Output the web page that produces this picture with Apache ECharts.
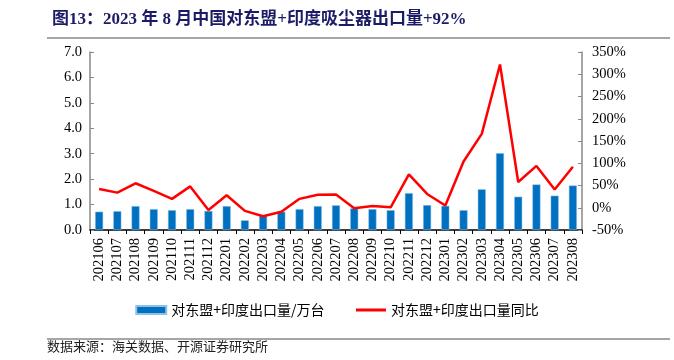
<!DOCTYPE html>
<html><head><meta charset="utf-8">
<script src="https://cdn.jsdelivr.net/npm/echarts@6/dist/echarts.min.js"></script>
<style>html,body{margin:0;padding:0;background:#fff}#c{width:674px;height:360px}</style>
</head><body><div id="c"></div>
<script>
const categories = ['202106','202107','202108','202109','202110','202111','202112','202201','202202','202203','202204','202205','202206','202207','202208','202209','202210','202211','202212','202301','202302','202303','202304','202305','202306','202307','202308'];
const volume = [0.72,0.74,0.94,0.82,0.78,0.82,0.75,0.94,0.38,0.55,0.72,0.82,0.94,0.97,0.85,0.82,0.78,1.45,0.98,0.95,0.78,1.60,3.02,1.31,1.79,1.35,1.75];
const yoy = [42,34,55,38,20,48,-5,28,-7,-19,-9,20,29,30,-1,4,1,75,31,5,104,166,322,58,94,41,92];
const leftTicks = {min:0, max:7, interval:1};
const rightTicks = {min:-50, max:350, interval:50};
const titleText = '图13：2023 年 8 月中国对东盟+印度吸尘器出口量+92%';
const sourceText = '数据来源：海关数据、开源证券研究所';
const seriesNames = ['对东盟+印度出口量/万台','对东盟+印度出口量同比'];

const serif = '"Liberation Serif","Times New Roman","Noto Sans CJK SC",serif';
const chart = echarts.init(document.getElementById('c'), null, {renderer:'canvas'});
chart.setOption({
  animation:false,
  title:{text:titleText,left:47,top:6,textStyle:{fontFamily:serif,fontSize:17,fontWeight:'bold',color:'#1b1b66'}},
  graphic:[
    {type:'line',shape:{x1:47,y1:38,x2:670,y2:38},style:{stroke:'#888',lineWidth:1.5}},
    {type:'line',shape:{x1:47,y1:339,x2:670,y2:339},style:{stroke:'#888',lineWidth:1.5}},
    {type:'text',left:47,top:340,style:{text:sourceText,font:'13px "Noto Sans CJK SC"',fill:'#222'}}
  ],
  legend:{bottom:38,left:'center',itemGap:30,itemWidth:30,itemHeight:8,
    textStyle:{fontFamily:'"Noto Sans CJK SC"',fontSize:14,color:'#000'},
    data:[{name:seriesNames[0],icon:'rect'},
          {name:seriesNames[1],itemStyle:{opacity:0},lineStyle:{width:3,color:'#FF0000'}}]},
  grid:{left:90,right:92,top:52,bottom:130},
  xAxis:{type:'category',data:categories,
    axisLine:{lineStyle:{color:'#000',width:1.5}},
    axisTick:{show:true,inside:false,length:4,lineStyle:{color:'#000'}},
    axisLabel:{rotate:90,fontFamily:serif,fontSize:14.5,color:'#000',interval:0,margin:8}},
  yAxis:[
    {type:'value',min:leftTicks.min,max:leftTicks.max,interval:leftTicks.interval,
     splitLine:{show:false},
     axisLine:{show:true,lineStyle:{color:'#888',width:1.5}},
     axisTick:{show:true,inside:true,length:4,lineStyle:{color:'#888'}},
     axisLabel:{formatter:v=>v.toFixed(1),fontFamily:serif,fontSize:14.5,color:'#000',margin:8}},
    {type:'value',min:rightTicks.min,max:rightTicks.max,interval:rightTicks.interval,
     splitLine:{show:false},
     axisLine:{show:true,lineStyle:{color:'#888',width:1.5}},
     axisTick:{show:true,inside:true,length:4,lineStyle:{color:'#888'}},
     axisLabel:{formatter:v=>v+'%',fontFamily:serif,fontSize:14.5,color:'#000',margin:10}}
  ],
  series:[
    {name:seriesNames[0],type:'bar',data:volume,barWidth:8,yAxisIndex:0,
     itemStyle:{color:'#0070C0',borderColor:'#8fc1e8',borderWidth:0.5}},
    {name:seriesNames[1],type:'line',data:yoy,yAxisIndex:1,symbol:'none',
     lineStyle:{color:'#FF0000',width:2.5},itemStyle:{color:'#FF0000'}}
  ]
});
</script></body></html>
